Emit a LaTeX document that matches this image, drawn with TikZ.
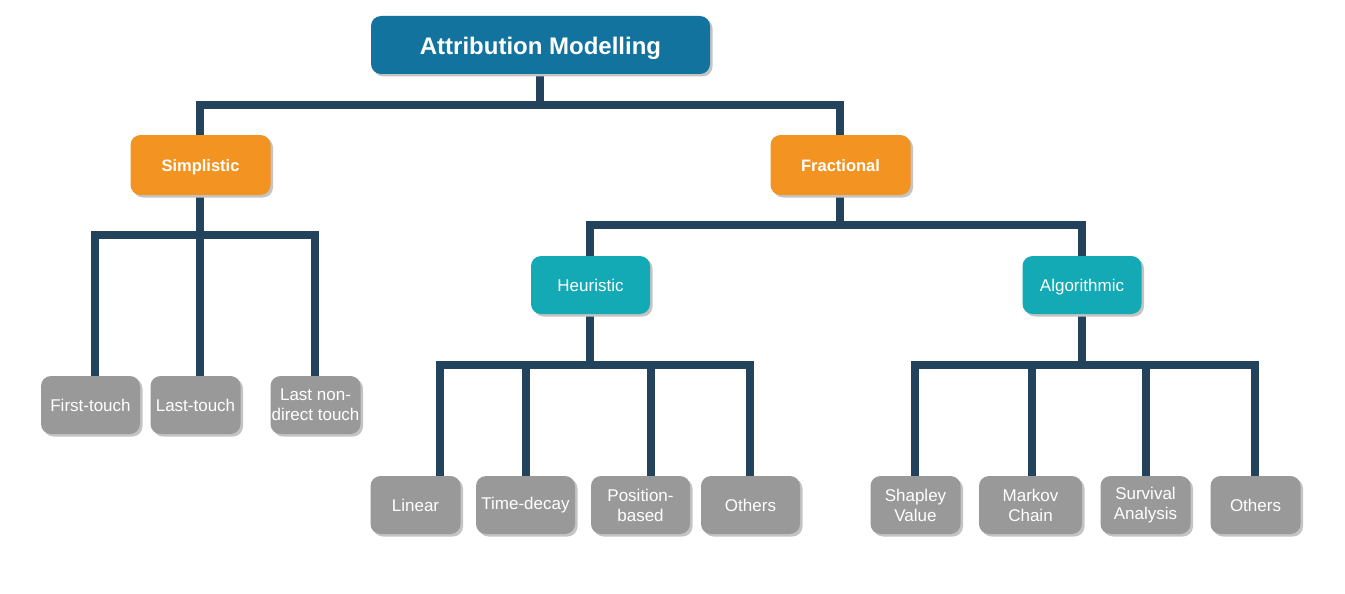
\documentclass[tikz,border=0pt]{standalone}
\usepackage{fontspec}
\setmainfont{Liberation Sans}
\usetikzlibrary{shadows,backgrounds}
\definecolor{rootc}{HTML}{12739E}
\definecolor{orangec}{HTML}{F39422}
\definecolor{tealc}{HTML}{13AAB5}
\definecolor{grayc}{HTML}{999999}
\definecolor{linec}{HTML}{23435C}
\definecolor{shadc}{HTML}{C4C4C4}
\tikzset{
  box/.style={rounded corners=10pt, text=white, align=center, inner sep=0pt,
    drop shadow={shadow xshift=2.5pt, shadow yshift=-2.5pt, fill=shadc, opacity=1}},
  rootbox/.style={box, fill=rootc, minimum width=339pt, minimum height=58pt, text height=19.5pt, text depth=0pt, font=\fontsize{24}{28}\selectfont\bfseries},
  midbox/.style={box, fill=orangec, minimum width=140pt, minimum height=60pt, text height=13.5pt, text depth=0pt, font=\fontsize{16.5}{20}\selectfont\bfseries},
  subbox/.style={box, fill=tealc, minimum width=119pt, minimum height=58pt, text height=12pt, text depth=0pt, font=\fontsize{17}{20}\selectfont},
  leafbox/.style={box, fill=grayc, minimum width=90pt, minimum height=58pt, font=\fontsize{17}{20}\selectfont},
  conn/.style={draw=linec, line width=8pt, line cap=rect}
}
\begin{document}
\begin{tikzpicture}[x=1pt,y=-1pt]
\useasboundingbox (0,0) rectangle (1345,594);
% nodes
\node[rootbox] (root) at (540.5,45) {Attribution Modelling};
\node[midbox] (simp) at (200.5,165) {Simplistic};
\node[midbox] (frac) at (840.5,165) {Fractional};
\node[subbox] (heur) at (590.5,285) {Heuristic};
\node[subbox] (algo) at (1082,285) {Algorithmic};
\node[leafbox, minimum width=99pt] (ft) at (90.5,405) {First-touch};
\node[leafbox] (lt) at (195.5,405) {Last-touch};
\node[leafbox] (lnd) at (315.5,405) {Last non-\\direct touch};
\node[leafbox] (lin) at (415.5,505) {Linear};
\node[leafbox, minimum width=99pt] (td) at (525.5,505) {Time-decay};
\node[leafbox, minimum width=99pt] (pb) at (640.5,505) {Position-\\based};
\node[leafbox, minimum width=99pt] (oth1) at (750.5,505) {Others};
\node[leafbox] (sv) at (915.5,505) {Shapley\\Value};
\node[leafbox, minimum width=103pt] (mc) at (1030.5,505) {Markov\\Chain};
\node[leafbox] (sa) at (1145.5,505) {Survival\\Analysis};
\node[leafbox] (oth2) at (1255.5,505) {Others};
% connector coordinates
\coordinate (r1) at (540,105);
\coordinate (rs) at (200,105);
\coordinate (rf) at (840,105);
\coordinate (s1) at (200,235);
\coordinate (f1) at (840,225);
\coordinate (fh) at (590,225);
\coordinate (fa) at (1082,225);
\coordinate (h1) at (590,365);
\coordinate (a1) at (1082,365);
\coordinate (dft) at (95,376);
\coordinate (dlt) at (200,376);
\coordinate (dlnd) at (315,376);
\coordinate (dlin) at (440,476);
\coordinate (dtd) at (526,476);
\coordinate (dpb) at (651,476);
\coordinate (do1) at (750,476);
\coordinate (dsv) at (915,476);
\coordinate (dmc) at (1032,476);
\coordinate (dsa) at (1146,476);
\coordinate (do2) at (1255,476);
\begin{scope}[on background layer]
\draw[conn] (root.south -| r1) -- (r1);
\draw[conn] (rs) -- (rf);
\draw[conn] (rs) -- (simp.north -| rs);
\draw[conn] (rf) -- (frac.north -| rf);
% simplistic
\draw[conn] (simp.south -| s1) -- (s1);
\draw[conn] (dft |- s1) -- (dlnd |- s1);
\draw[conn] (dft |- s1) -- (dft);
\draw[conn] (dlt |- s1) -- (dlt);
\draw[conn] (dlnd |- s1) -- (dlnd);
% fractional
\draw[conn] (frac.south -| f1) -- (f1);
\draw[conn] (fh) -- (fa);
\draw[conn] (fh) -- (heur.north -| fh);
\draw[conn] (fa) -- (algo.north -| fa);
% heuristic
\draw[conn] (heur.south -| h1) -- (h1);
\draw[conn] (dlin |- h1) -- (do1 |- h1);
\draw[conn] (dlin |- h1) -- (dlin);
\draw[conn] (dtd |- h1) -- (dtd);
\draw[conn] (dpb |- h1) -- (dpb);
\draw[conn] (do1 |- h1) -- (do1);
% algorithmic
\draw[conn] (algo.south -| a1) -- (a1);
\draw[conn] (dsv |- a1) -- (do2 |- a1);
\draw[conn] (dsv |- a1) -- (dsv);
\draw[conn] (dmc |- a1) -- (dmc);
\draw[conn] (dsa |- a1) -- (dsa);
\draw[conn] (do2 |- a1) -- (do2);
\end{scope}
\end{tikzpicture}
\end{document}
